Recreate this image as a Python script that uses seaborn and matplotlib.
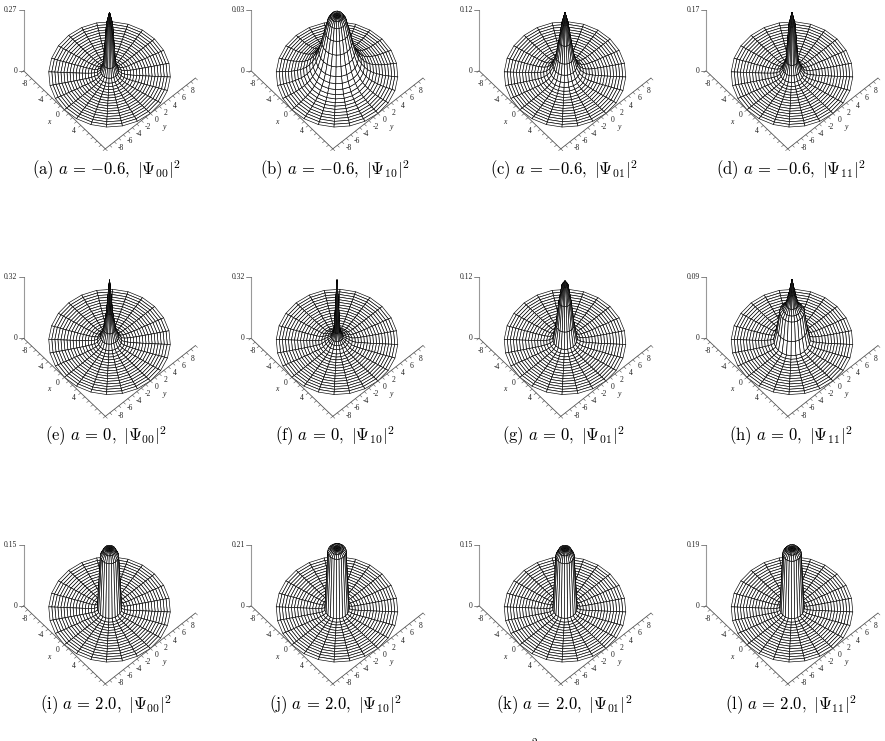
"""
plot.py - |Psi|^2 surfaces for a = -0.6, 0, 2.0
Wireframe surfaces of revolution, 3 rows by 4 columns.
"""

import numpy as np
import matplotlib
matplotlib.use("Agg")
import matplotlib.pyplot as plt
from mpl_toolkits.mplot3d import proj3d
import seaborn as sns

# ===============================
# Data
# ===============================
radii = [0, .5, 1, 1.5, 2, 2.5, 3, 3.5, 4, 4.5, 5, 5.5, 6, 6.5, 7, 7.5, 8, 8.5, 9, 9.5, 10]

psi_a = [.275, .225, .05, .018, .008, .004, .002, .0012, .0008, .0005, .0003, .0002, .0001, .0001, 0, 0, 0, 0, 0, 0, 0]
psi_b = [.029, .0289, .0286, .0265, .0215, .016, .0115, .008, .0058, .0042, .003, .0022, .0016, .0012, .0009, .0006, .0004, .0003, .0002, .0001, 0]
psi_c = [.122, .102, .066, .036, .019, .01, .0054, .003, .0018, .0011, .0007, .0005, .0004, .0003, .0002, .0001, .0001, 0, 0, 0, 0]
psi_d = [.173, .14, .04, .018, .007, .003, .0015, .001, .0006, .0004, .0003, .0002, .0001, 0, 0, 0, 0, 0, 0, 0, 0]
psi_e = [.325, .16, .07, .03, .01, .005, .003, .002, .0012, .0008, .0005, .0003, .0002, .0001, 0, 0, 0, 0, 0, 0, 0]
psi_f = [.325, .06, .03, .022, .015, .006, .003, .002, .0015, .001, .0006, .0004, .0002, .0001, 0, 0, 0, 0, 0, 0, 0]
psi_g = [.12, .112, .08, .035, .006, .003, .0015, .001, .0006, .0004, .0003, .0002, .0001, .0001, 0, 0, 0, 0, 0, 0, 0]
psi_h = [.092, .072, .056, .05, .045, .02, .003, .0015, .001, .0006, .0004, .0002, .0001, 0, 0, 0, 0, 0, 0, 0, 0]
psi_i = [.15, .149, .145, .132, .004, .0008, .0003, .0002, .0001, 0, 0, 0, 0, 0, 0, 0, 0, 0, 0, 0, 0]
psi_j = [.21, .21, .208, .2, .004, .001, .0004, .0002, .0001, 0, 0, 0, 0, 0, 0, 0, 0, 0, 0, 0, 0]
psi_k = [.15, .149, .145, .132, .004, .0008, .0003, .0002, .0001, 0, 0, 0, 0, 0, 0, 0, 0, 0, 0, 0, 0]
psi_l = [.19, .189, .186, .175, .004, .001, .0004, .0002, .0001, 0, 0, 0, 0, 0, 0, 0, 0, 0, 0, 0, 0]

profiles = [psi_a, psi_b, psi_c, psi_d, psi_e, psi_f, psi_g, psi_h, psi_i, psi_j, psi_k, psi_l]
z_tops = [.27, .03, .12, .17, .32, .32, .12, .09, .15, .21, .15, .19]
z_labels = ["0.27", "0.03", "0.12", "0.17", "0.32", "0.32", "0.12", "0.09", "0.15", "0.21", "0.15", "0.19"]
letters = list("abcdefghijkl")
a_values = ["-0.6"] * 4 + ["0"] * 4 + ["2.0"] * 4
states = ["00", "10", "01", "11"] * 3

x_tick_labels = [-8, -4, 0, 4]
y_tick_labels = [-8, -6, -4, -2, 0, 2, 4, 6, 8]
minor_ticks = list(range(-10, 11))

# ===============================
# Layout (pixels of the 885x741 canvas)
# ===============================
W, H = 885, 741
SIZE = 260
ELEV, AZIM = 60, -42.2
# the 3D axes sit 3.5 px off centre, so the box centres are shifted back
centers_x = [106, 333.5, 561.5, 788.5]
centers_y = [47.5, 315, 582.5]
caption_x = [106, 335, 564, 791]
caption_y = [170, 436, 705]
AXIS_COLOR = "#555555"
ZAXIS_COLOR = "#999999"
TEXT_COLOR = "#222222"
TICK_SIZE = 5.5

sns.set_theme(style="white", rc={"mathtext.fontset": "cm", "font.family": ["Liberation Serif", "DejaVu Serif"]})

fig = plt.figure(figsize=(W / 100, H / 100), dpi=100)

theta = np.radians(np.arange(0, 361, 15))
left_dir = np.array([-np.sin(np.radians(AZIM)), np.cos(np.radians(AZIM))]) * -1


def label3d(ax, x, y, z, s, **kw):
    # put a label at a 3D point, as a plain 2D text
    px, py, _ = proj3d.proj_transform(x, y, z, ax.get_proj())
    ax.text2D(px, py, s, color=TEXT_COLOR, fontsize=kw.pop("fontsize", TICK_SIZE), va="center", **kw)


for i, profile in enumerate(profiles):
    row, col = divmod(i, 4)
    cx, cy = centers_x[col], centers_y[row]
    ax = fig.add_axes([(cx - SIZE / 2) / W, 1 - (cy + SIZE / 2) / H, SIZE / W, SIZE / H],
                      projection="3d", proj_type="ortho")
    ax.view_init(elev=ELEV, azim=AZIM)
    ax.set_box_aspect((1, 1, 1), zoom=0.787)
    ax.set_xlim(-10, 10)
    ax.set_ylim(-10, 10)
    zt = z_tops[i]
    ax.set_zlim(0, zt)
    ax.set_axis_off()

    # surface of revolution from the radial profile
    rr, tt = np.meshgrid(radii, theta)
    zz = np.tile(profile, (len(theta), 1))
    ax.plot_surface(rr * np.cos(tt), rr * np.sin(tt), zz, rstride=1, cstride=1,
                    color="white", edgecolor="black", linewidth=0.45, shade=False, antialiased=True)

    # axes drawn by hand, like the original box
    ax.plot([-10, 10], [-10, -10], [0, 0], color=AXIS_COLOR, lw=0.6)
    ax.plot([10, 10], [-10, 10], [0, 0], color=AXIS_COLOR, lw=0.6)
    ax.plot([-10, -10], [-10, -10], [0, zt], color=ZAXIS_COLOR, lw=0.8)

    for t in minor_ticks:
        ax.plot([t, t], [-10, -10.5], [0, 0], color=AXIS_COLOR, lw=0.4)
        ax.plot([10, 10.5], [t, t], [0, 0], color=AXIS_COLOR, lw=0.4)
    for t in x_tick_labels:
        label3d(ax, t, -11.5, 0, str(t), ha="center")
    for t in y_tick_labels:
        label3d(ax, 11.6, t, 0, str(t), ha="center")
    label3d(ax, 0, -13.4, 0, "x", fontsize=TICK_SIZE, style="italic", ha="center")
    label3d(ax, 13.4, 0, 0, "y", fontsize=TICK_SIZE, style="italic", ha="center")

    # z ticks go straight left on screen
    for z, label in zip([0, zt], ["0", z_labels[i]]):
        ax.plot([-10, -10 + left_dir[0] * 0.8], [-10, -10 + left_dir[1] * 0.8], [z, z], color=AXIS_COLOR, lw=0.5)
        label3d(ax, -10 + left_dir[0] * 1.0, -10 + left_dir[1] * 1.0, z, label, ha="right")

    caption = rf"$\mathrm{{({letters[i]})}}\ a\,=\,{{{a_values[i]}}},\ |\Psi_{{{states[i]}}}|^2$"
    fig.text(caption_x[col] / W, 1 - caption_y[row] / H, caption, fontsize=12, ha="center", va="center", color="black")

fig.text(534 / W, 1 - 736 / H, "$2$", fontsize=8, ha="center", va="top", color="black")

fig.savefig("out.png", dpi=100)
